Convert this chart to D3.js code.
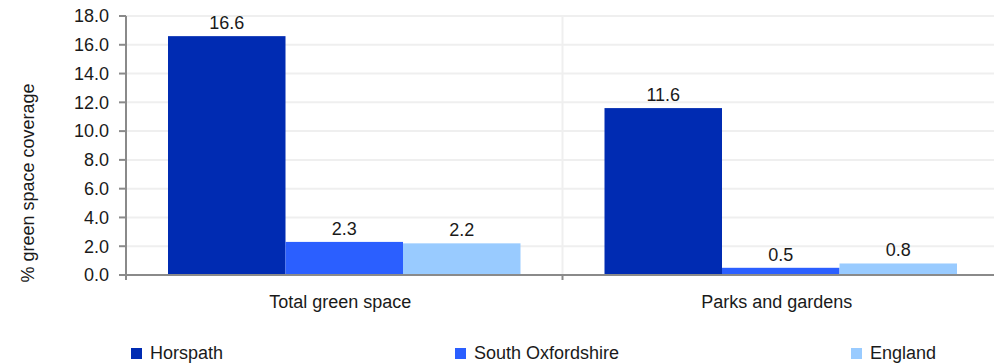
<!DOCTYPE html>
<html lang="en">
<head>
    <title>Green space coverage</title>
    <script src="https://d3js.org/d3.v7.min.js"></script>
    <style>
        body {
            margin: 0;
            background: #fff;
        }

        text {
            font-family: "Liberation Sans", Arial, sans-serif;
            font-size: 18px;
            fill: #1a1a1a;
        }

        .grid line {
            stroke: #efefef;
            stroke-width: 2;
        }

        .axis-line {
            stroke: #8a8a8a;
            stroke-width: 2;
        }
    </style>
</head>
<body>
<div id="chart"></div>

<script>
    // chart values
    var categories = ["Total green space", "Parks and gardens"];
    var seriesNames = ["Horspath", "South Oxfordshire", "England"];
    var horspath = [16.6, 11.6];
    var southOxfordshire = [2.3, 0.5];
    var england = [2.2, 0.8];
    var yTicks = [0, 2, 4, 6, 8, 10, 12, 14, 16, 18];

    var seriesValues = [horspath, southOxfordshire, england];
    var colors = ["#002bb2", "#2b5fff", "#99cbff"];

    var w = 994;
    var h = 363;
    var plotLeft = 126;
    var plotTop = 16;
    var plotBottom = 275;

    var svg = d3.select("#chart")
        .append("svg")
        .attr("width", w)
        .attr("height", h);

    var x0 = d3.scaleBand()
        .domain(categories)
        .range([plotLeft, 999]);

    var x1 = d3.scaleBand()
        .domain(seriesNames)
        .range([42, x0.bandwidth() - 42]);

    var y = d3.scaleLinear()
        .domain([0, 18])
        .range([plotBottom, plotTop]);

    // gridlines
    var grid = svg.append("g").attr("class", "grid");
    grid.selectAll("line.h")
        .data(yTicks.filter(d => d > 0))
        .enter()
        .append("line")
        .attr("class", "h")
        .attr("x1", plotLeft)
        .attr("x2", w)
        .attr("y1", d => y(d))
        .attr("y2", d => y(d));

    grid.selectAll("line.v")
        .data(categories.slice(1))
        .enter()
        .append("line")
        .attr("class", "v")
        .attr("x1", d => x0(d))
        .attr("x2", d => x0(d))
        .attr("y1", plotTop)
        .attr("y2", plotBottom);

    // bars
    var rows = [];
    categories.forEach((c, i) => {
        seriesNames.forEach((s, j) => {
            rows.push({cat: c, series: s, value: seriesValues[j][i], color: colors[j]});
        });
    });

    svg.selectAll("rect.bar")
        .data(rows)
        .enter()
        .append("rect")
        .attr("class", "bar")
        .attr("x", d => x0(d.cat) + x1(d.series))
        .attr("y", d => y(d.value))
        .attr("width", x1.bandwidth())
        .attr("height", d => y(0) - y(d.value))
        .attr("fill", d => d.color);

    svg.selectAll("text.value")
        .data(rows)
        .enter()
        .append("text")
        .attr("class", "value")
        .attr("x", d => x0(d.cat) + x1(d.series) + x1.bandwidth() / 2)
        .attr("y", d => y(d.value) - 7)
        .attr("text-anchor", "middle")
        .text(d => d.value.toFixed(1));

    // y axis
    svg.append("line")
        .attr("class", "axis-line")
        .attr("x1", plotLeft)
        .attr("x2", plotLeft)
        .attr("y1", plotTop)
        .attr("y2", plotBottom + 5);

    svg.selectAll("line.ytick")
        .data(yTicks)
        .enter()
        .append("line")
        .attr("class", "axis-line ytick")
        .attr("x1", plotLeft - 7)
        .attr("x2", plotLeft)
        .attr("y1", d => y(d))
        .attr("y2", d => y(d));

    svg.selectAll("text.ylabel")
        .data(yTicks)
        .enter()
        .append("text")
        .attr("class", "ylabel")
        .attr("x", plotLeft - 17)
        .attr("y", d => y(d))
        .attr("dy", "0.35em")
        .attr("text-anchor", "end")
        .text(d => d.toFixed(1));

    svg.append("text")
        .attr("transform", "translate(34, 183) rotate(-90)")
        .attr("text-anchor", "middle")
        .text("% green space coverage");

    // x axis
    svg.append("line")
        .attr("class", "axis-line")
        .attr("x1", plotLeft - 7)
        .attr("x2", w)
        .attr("y1", plotBottom)
        .attr("y2", plotBottom);

    svg.selectAll("line.xtick")
        .data(categories.slice(1))
        .enter()
        .append("line")
        .attr("class", "axis-line xtick")
        .attr("x1", d => x0(d))
        .attr("x2", d => x0(d))
        .attr("y1", plotBottom)
        .attr("y2", plotBottom + 5);

    svg.selectAll("text.xlabel")
        .data(categories)
        .enter()
        .append("text")
        .attr("class", "xlabel")
        .attr("x", d => x0(d) + x0.bandwidth() / 2 - 4)
        .attr("y", 308)
        .attr("text-anchor", "middle")
        .text(d => d);

    // legend
    var legendX = [131, 455, 851];
    seriesNames.forEach((s, i) => {
        var g = svg.append("g")
            .attr("transform", `translate(${legendX[i]}, 348)`);
        g.append("rect")
            .attr("width", 11)
            .attr("height", 11)
            .attr("fill", colors[i]);
        g.append("text")
            .attr("x", 19)
            .attr("y", 11)
            .text(s);
    });
</script>
</body>
</html>
